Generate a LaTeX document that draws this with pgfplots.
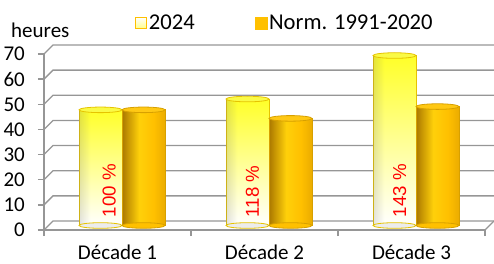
\documentclass[border=0pt]{standalone}
\usepackage{fontspec}
\setmainfont{Carlito}
\newfontfamily\arialf{Liberation Sans}
\usepackage{pgfplots}
\pgfplotsset{compat=1.18}
\usepackage{pgfplotstable}
\usetikzlibrary{calc,fadings}

\definecolor{gridc}{RGB}{150,150,150}
\definecolor{yel}{RGB}{255,255,40}
\definecolor{yelcap}{RGB}{250,250,70}
\definecolor{yeledge}{RGB}{230,195,0}
\definecolor{gold}{RGB}{255,192,0}
\definecolor{golddark}{RGB}{170,120,0}
\definecolor{goldlight}{RGB}{255,208,10}
\definecolor{goldr}{RGB}{235,172,0}
\definecolor{goldcap}{RGB}{255,200,20}
\definecolor{goldedge}{RGB}{215,160,0}

\pgfdeclarehorizontalshading{goldsh}{100bp}{color(0bp)=(golddark); color(25bp)=(golddark); color(45bp)=(goldlight); color(62bp)=(gold); color(75bp)=(goldr); color(100bp)=(goldr)}
\pgfdeclarehorizontalshading{fadesh}{100bp}{color(0bp)=(white!65!black); color(25bp)=(white!65!black); color(33bp)=(white!35!black); color(44bp)=(black); color(100bp)=(black)}
\begin{tikzfadingfrompicture}[name=cylf]
\shade[shading=fadesh] (0,0) rectangle (100bp,100bp);
\end{tikzfadingfrompicture}

\pgfplotstableread{
x a b
0 46.0 46.0
1 50.3 42.6
2 67.6 47.3
}\data

\begin{document}
\begin{tikzpicture}[font=\fontsize{21bp}{25bp}\selectfont]
\begin{axis}[
  at={(44bp,34bp)}, anchor=south west,
  scale only axis, width=441bp, height=176bp,
  xmin=-0.5, xmax=2.5, ymin=0, ymax=70,
  clip=false,
  axis lines*=left,
  axis line style={gridc, line width=1.3bp},
  tick align=outside,
  major tick length=6bp, minor tick length=6bp,
  xtick={0,1,2}, xticklabels={Décade 1, Décade 2, Décade 3},
  major x tick style={draw=none},
  minor xtick={-0.5,0.5,1.5,2.5},
  minor x tick style={gridc, line width=1.3bp},
  ytick={0,10,...,70},
  y tick style={gridc, line width=1.3bp},
  tick label style={font=\fontsize{21bp}{25bp}\selectfont},
  /pgf/number format/assume math mode=true,
  yticklabel style={anchor=east, inner sep=0pt, xshift=-13bp},
  xticklabel style={anchor=north, inner sep=0pt, yshift=-9bp},
  legend style={at={(axis description cs:0.205,1.176)}, anchor=west, draw=none, fill=none,
    inner sep=0pt, nodes={inner sep=2bp}, font=\fontsize{22.6bp}{26bp}\selectfont,
    /tikz/every even column/.append style={column sep=58bp}},
  legend columns=2,
]
% 3D-like grid on the back wall
\pgfplotsinvokeforeach{0,10,20,30,40,50,60,70}{
  \draw[gridc, line width=1.3bp] (axis cs:-0.5,#1) -- ++(9bp,9bp) -- ($(axis cs:2.5,#1)+(9bp,9bp)$);
}
\draw[gridc, line width=1.3bp] (axis cs:2.5,0) -- ++(9bp,9bp);

% bottom caps
\addplot[forget plot, only marks, mark=*, mark size=21.5bp,
  mark options={xshift=-17bp, yshift=4.5bp, yscale=0.13, fill=white!85!gray, draw=yeledge, line width=0.8bp}]
  table[x=x, y expr=0] {\data};
\addplot[forget plot, only marks, mark=*, mark size=21.5bp,
  mark options={xshift=26bp, yshift=4.5bp, yscale=0.13, fill=gold, draw=goldedge, line width=0.8bp}]
  table[x=x, y expr=0] {\data};

% bars, one plot per bar so that each is shaded on its own
\pgfplotsinvokeforeach{0,1,2}{
\addplot[forget plot, ybar, bar width=43bp, bar shift=-21.5bp, xshift=4.5bp, yshift=4.5bp,
  draw=yeledge, line width=0.8bp, top color=yel, bottom color=white,
  x filter/.expression={abs(x-#1)<0.1 ? x : nan}]
  table[x=x, y=a] {\data};
\addplot[forget plot, ybar, bar width=43bp, bar shift=-21.5bp, xshift=4.5bp, yshift=4.5bp,
  draw=none, fill=black!55, path fading=cylf,
  x filter/.expression={abs(x-#1)<0.1 ? x : nan}]
  table[x=x, y=a] {\data};
\addplot[forget plot, ybar, bar width=43bp, bar shift=21.5bp, xshift=4.5bp, yshift=4.5bp,
  draw=goldedge, line width=0.8bp, shade, shading=goldsh,
  x filter/.expression={abs(x-#1)<0.1 ? x : nan}]
  table[x=x, y=b] {\data};
}

% top caps
\addplot[forget plot, only marks, mark=*, mark size=21.5bp,
  mark options={xshift=-17bp, yshift=4.5bp, yscale=0.13, fill=yelcap, draw=yeledge, line width=0.8bp}]
  table[x=x, y=a] {\data};
\addplot[forget plot, only marks, mark=*, mark size=21.5bp,
  mark options={xshift=26bp, yshift=4.5bp, yscale=0.13, fill=goldcap, draw=goldedge, line width=0.8bp}]
  table[x=x, y=b] {\data};

% percentage labels
\node[rotate=90, anchor=west, inner sep=0pt, text=red, font=\arialf\fontsize{18.7bp}{20bp}\selectfont]
  at ([xshift=-8.3bp]axis cs:0,5) {100 \%};
\node[rotate=90, anchor=west, inner sep=0pt, text=red, font=\arialf\fontsize{18.7bp}{20bp}\selectfont]
  at ([xshift=-12bp]axis cs:1,5) {118 \%};
\node[rotate=90, anchor=west, inner sep=0pt, text=red, font=\arialf\fontsize{18.7bp}{20bp}\selectfont]
  at ([xshift=-11.7bp]axis cs:2,5) {143 \%};

% y unit
\node[anchor=base west, inner sep=0pt] at ([xshift=-33bp, yshift=17bp]axis description cs:0,1) {heures};

% legend
\addlegendimage{legend image code/.code={\draw[draw=gold, line width=1.3bp, top color=white, bottom color=yel!55] (0bp,-5.5bp) rectangle (11bp,5.5bp);}}
\addlegendentry{2024}
\addlegendimage{legend image code/.code={\fill[gold] (0bp,-6bp) rectangle (12bp,6bp);}}
\addlegendentry{Norm. 1991-2020}
\end{axis}
\pgfresetboundingbox
\path[use as bounding box] (0,0) rectangle (494bp,264bp);
\end{tikzpicture}
\end{document}
